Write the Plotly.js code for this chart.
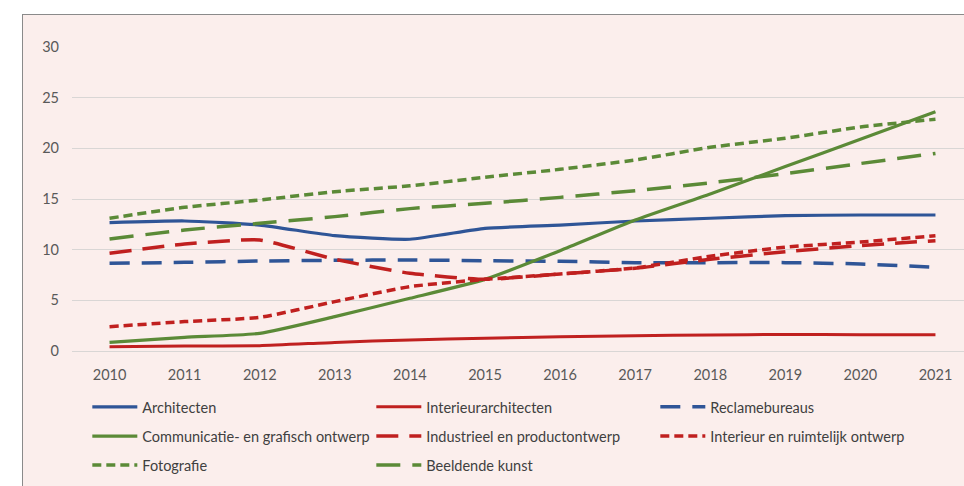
<!DOCTYPE html>
<html>
<head>
<meta charset="utf-8">
<script src="https://cdn.plot.ly/plotly-3.0.1.min.js"></script>
<style>
  html, body { margin: 0; padding: 0; width: 964px; height: 486px; overflow: hidden; background: #ffffff; }
  #box { position: absolute; left: 22px; top: 14px; width: 1000px; height: 520px; background: #fbeeec; border-left: 1.5px solid #8a8a8a; border-top: 1.5px solid #8a8a8a; }
  #chart { position: absolute; left: 0; top: 0; width: 1000px; height: 486px; }
</style>
</head>
<body>
<div id="box"></div>
<div id="chart"></div>
<script>
const years = [2010, 2011, 2012, 2013, 2014, 2015, 2016, 2017, 2018, 2019, 2020, 2021];

const architecten          = [12.66, 12.83, 12.43, 11.38, 11.03, 12.1, 12.43, 12.83, 13.1, 13.36, 13.42, 13.42];
const interieurarchitecten = [0.43, 0.49, 0.53, 0.85, 1.09, 1.25, 1.41, 1.51, 1.58, 1.64, 1.6, 1.6];
const reclamebureaus       = [8.65, 8.75, 8.88, 8.95, 8.98, 8.91, 8.85, 8.72, 8.72, 8.72, 8.59, 8.26];
const communicatie         = [0.85, 1.35, 1.74, 3.39, 5.2, 7.07, 9.9, 12.93, 15.5, 18.2, 20.9, 23.62];
const industrieel          = [9.64, 10.56, 10.95, 9.05, 7.67, 7.07, 7.6, 8.16, 9.05, 9.8, 10.4, 10.89];
const interieurRuimtelijk  = [2.4, 2.9, 3.32, 4.87, 6.35, 7.07, 7.6, 8.2, 9.35, 10.25, 10.75, 11.38];
const fotografie           = [13.1, 14.18, 14.9, 15.72, 16.3, 17.14, 17.93, 18.85, 20.1, 21.0, 22.1, 22.87];
const beeldendeKunst       = [11.05, 11.94, 12.6, 13.26, 14.05, 14.57, 15.16, 15.82, 16.6, 17.5, 18.5, 19.5];

const yTicks = [0, 5, 10, 15, 20, 25, 30];

const BLUE = '#2f5597';
const RED = '#c0201f';
const GREEN = '#5b8a37';

function tr(name, y, color, dash, legend, width) {
  return {
    type: 'scatter', mode: 'lines', name: name, x: years, y: y,
    line: { color: color, width: width || 3.5, dash: dash, shape: 'spline', smoothing: 0.5 },
    legend: legend, hoverinfo: 'skip'
  };
}

const data = [
  tr('Architecten', architecten, BLUE, 'solid', 'legend', 3.2),
  tr('Interieurarchitecten', interieurarchitecten, RED, 'solid', 'legend', 3),
  tr('Reclamebureaus', reclamebureaus, BLUE, '20px,12px', 'legend'),
  tr('Communicatie- en grafisch ontwerp', communicatie, GREEN, 'solid', 'legend2', 3.2),
  tr('Industrieel en productontwerp', industrieel, RED, '22px,11px', 'legend2'),
  tr('Interieur en ruimtelijk ontwerp', interieurRuimtelijk, RED, '9px,5px', 'legend2'),
  tr('Fotografie', fotografie, GREEN, '9px,5px', 'legend3'),
  tr('Beeldende kunst', beeldendeKunst, GREEN, '24px,12px', 'legend3')
];

const FONT = 'Lato, "Open Sans", sans-serif';

const legendBase = {
  orientation: 'h', xanchor: 'left', yanchor: 'middle',
  entrywidth: 224, entrywidthmode: 'pixels', itemwidth: 45,
  bgcolor: 'rgba(0,0,0,0)', borderwidth: 0,
  font: { family: FONT, size: 14.5, color: '#404040' },
  itemclick: false, itemdoubleclick: false, traceorder: 'normal'
};

const layout = {
  width: 1000, height: 486,
  margin: { l: 72, r: 27, t: 47, b: 135, autoexpand: false },
  paper_bgcolor: 'rgba(0,0,0,0)',
  plot_bgcolor: 'rgba(0,0,0,0)',
  font: { family: FONT, size: 14.5, color: '#595959' },
  showlegend: true,
  xaxis: {
    range: [2009.5, 2021.5], tickvals: years, ticktext: years.map(String),
    showgrid: false, zeroline: false, showline: false, ticks: '',
    ticklabelstandoff: 13, fixedrange: true
  },
  yaxis: {
    range: [0, 30], tickvals: yTicks, showgrid: true, gridcolor: '#d9d6d5', gridwidth: 1,
    zeroline: true, zerolinecolor: '#d9d6d5', zerolinewidth: 1, showline: false, ticks: '',
    ticklabelstandoff: 12, fixedrange: true
  },
  legend: Object.assign({}, legendBase, { x: 0.017, y: -0.184 }),
  legend2: Object.assign({}, legendBase, { x: 0.017, y: -0.280 }),
  legend3: Object.assign({}, legendBase, { x: 0.017, y: -0.375 })
};

Plotly.newPlot('chart', data, layout, { displayModeBar: false, staticPlot: true });
</script>
</body>
</html>
